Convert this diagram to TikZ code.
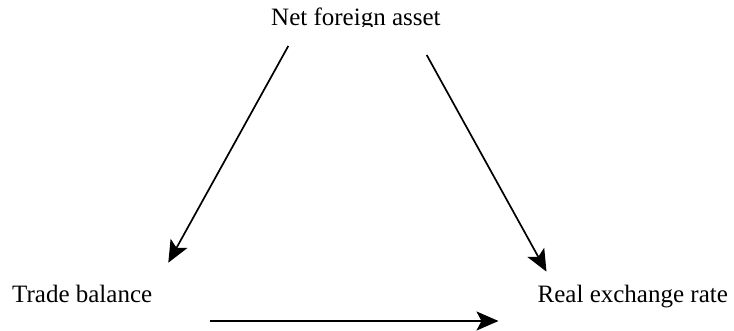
\documentclass[tikz,border=0pt]{standalone}
\usepackage{fontspec}
\setmainfont{Liberation Serif}
\usetikzlibrary{arrows.meta}
\begin{document}
\begin{tikzpicture}[x=1pt,y=-1pt,
  lbl/.style={anchor=base west,inner sep=0pt,font=\fontsize{25}{30}\selectfont},
  conn/.style={line width=1.7pt,-{Stealth[length=22pt,width=19pt,inset=5pt]}}]
\useasboundingbox (0,0) rectangle (734,331);
\begin{scope}
  \clip (0,0) rectangle (734,27);
  \node[lbl] (nfa) at (271,26) {Net foreign asset};
\end{scope}
\node[lbl] (tb) at (12,302.7) {Trade balance};
\node[lbl] (rer) at (537.5,302.7) {Real exchange rate};
\coordinate (l1) at (288.3,46);
\coordinate (l2) at (168.3,262.7);
\coordinate (r1) at (426.7,55);
\coordinate (r2) at (546.5,271.7);
\coordinate (b1) at (210,321);
\coordinate (b2) at (498.5,321);
\draw[conn] (l1) -- (l2);
\draw[conn] (r1) -- (r2);
\draw[conn,line width=2pt] (b1) -- (b2);
\end{tikzpicture}
\end{document}
